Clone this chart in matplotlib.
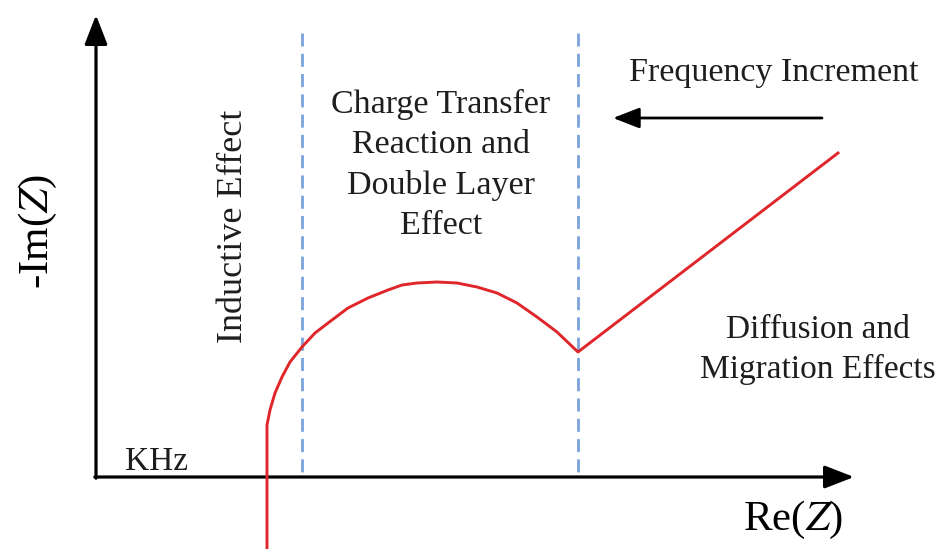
import matplotlib
matplotlib.use("Agg")
import matplotlib.pyplot as plt

plt.rcParams['font.family'] = ['Liberation Serif', 'DejaVu Serif']
plt.rcParams['mathtext.fontset'] = 'stix'

# Nyquist curve (origin at the axes corner)
re_z = [171, 171, 174, 179, 186, 194, 206, 219, 236, 252, 272, 292, 306,
        321, 341, 361, 381, 401, 421, 441, 461, 482, 742]
im_z = [-72, 52, 67, 84, 100, 115, 130, 144, 157, 169, 179, 187, 192,
        194, 195, 194, 190, 184, 174, 160, 145, 125, 324]

# region boundaries (dashed lines)
boundaries = [206, 482]
boundary_top = 444

region_labels = ["Charge Transfer\nReaction and\nDouble Layer\nEffect",
                 "Diffusion and\nMigration Effects"]

red = '#e0262a'
blue = '#7ba3db'
txt = '#1e1e1e'

fig = plt.figure(figsize=(9.43, 5.49), dpi=100)
ax = fig.add_axes([0, 0, 1, 1])
ax.set_xlim(-96, 847)
ax.set_ylim(-72, 477)
ax.axis('off')

# axes with arrow heads
arrow_kw = dict(arrowstyle='-|>,head_length=0.9,head_width=0.35', color='black',
                lw=2.3, shrinkA=0, shrinkB=0, mutation_scale=20)
ax.annotate('', xy=(0, 462), xytext=(0, -1.2), arrowprops=arrow_kw)
ax.annotate('', xy=(758, 0), xytext=(-1.2, 0), arrowprops=arrow_kw)

# dashed region boundaries (pattern starts at the top)
for b in boundaries:
    ax.plot([b, b], [boundary_top, 0], color=blue, lw=2, dashes=(4.7, 2.6))

# impedance curve
ax.plot(re_z, im_z, color=red, lw=2.1, solid_joinstyle='round', zorder=3)

# frequency direction arrow
ax.annotate('', xy=(517, 359), xytext=(726, 359),
            arrowprops=dict(arrowstyle='-|>,head_length=0.9,head_width=0.35',
                            color='black', lw=2, shrinkA=0, shrinkB=0,
                            mutation_scale=18))

# texts
ax.text(-58, 245, '-Im($Z$)', fontsize=31, rotation=90, ha='center', va='center')
ax.text(697, -43, 'Re($Z$)', fontsize=31, ha='center', va='center')
ax.text(61, 15, 'KHz', fontsize=24, ha='center', va='center', color=txt)
ax.text(137, 251, 'Inductive Effect', fontsize=26, rotation=90,
        ha='center', va='center', color=txt)
ax.text(345, 312, region_labels[0], fontsize=24.5, ha='center', va='center',
        linespacing=1.42, color=txt)
ax.text(678, 404, 'Frequency Increment', fontsize=24.5, ha='center', va='center',
        color=txt)
ax.text(722, 127, region_labels[1], fontsize=24, ha='center', va='center',
        linespacing=1.38, color=txt)

fig.savefig('out.png', dpi=100)
